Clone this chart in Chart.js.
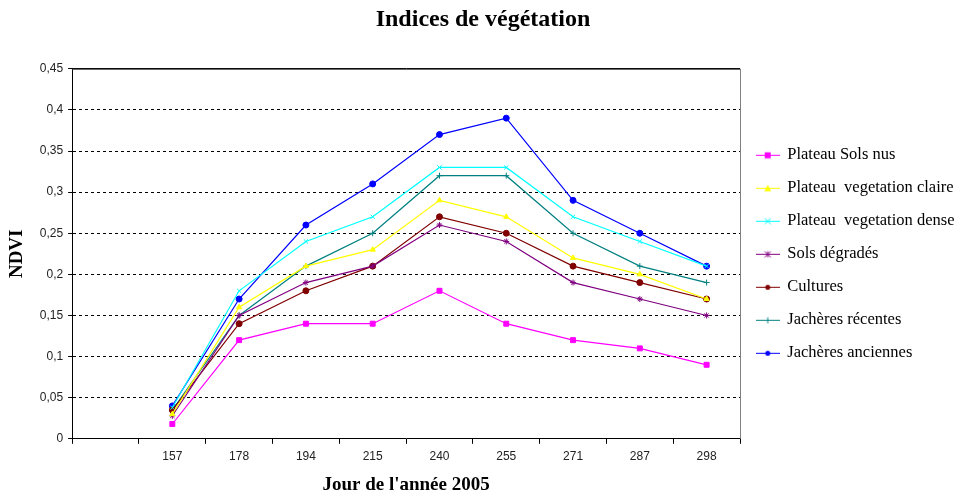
<!DOCTYPE html>
<html>
<head>
<meta charset="utf-8">
<script src="https://cdn.jsdelivr.net/npm/chart.js@4.4.1/dist/chart.umd.min.js"></script>
<style>
  html, body { margin: 0; padding: 0; background: #fff; }
  #wrap { width: 960px; height: 496px; position: relative; }
</style>
</head>
<body>
<div id="wrap"><canvas id="chart-ndvi"></canvas></div>
<script>
// ===== DATA =====
// first slot is empty on the reference axis
const days = ['', '157', '178', '194', '215', '240', '255', '271', '287', '298'];
const yTicks = [0, 0.05, 0.1, 0.15, 0.2, 0.25, 0.3, 0.35, 0.4, 0.45];

const solsNus        = [null, 0.018, 0.12, 0.14, 0.14, 0.18, 0.14, 0.12, 0.11, 0.09];
const vegClaire      = [null, 0.030, 0.16, 0.21, 0.23, 0.29, 0.27, 0.22, 0.20, 0.17];
const vegDense       = [null, 0.038, 0.18, 0.24, 0.27, 0.33, 0.33, 0.27, 0.24, 0.21];
const solsDegrades   = [null, 0.028, 0.15, 0.19, 0.21, 0.26, 0.24, 0.19, 0.17, 0.15];
const cultures       = [null, 0.035, 0.14, 0.18, 0.21, 0.27, 0.25, 0.21, 0.19, 0.17];
const jacheresRec    = [null, 0.035, 0.15, 0.21, 0.25, 0.32, 0.32, 0.25, 0.21, 0.19];
const jacheresAnc    = [null, 0.040, 0.17, 0.26, 0.31, 0.37, 0.39, 0.29, 0.25, 0.21];

const seriesNames = [
  'Plateau Sols nus',
  'Plateau  vegetation claire',
  'Plateau  vegetation dense',
  'Sols dégradés',
  'Cultures',
  'Jachères récentes',
  'Jachères anciennes'
];
const seriesData = [solsNus, vegClaire, vegDense, solsDegrades, cultures, jacheresRec, jacheresAnc];
const seriesColors = ['#ff00ff', '#ffff00', '#00ffff', '#800080', '#800000', '#008080', '#0000ff'];
const seriesMarkers = ['rect', 'triangle', 'crossRot', 'star', 'circle', 'cross', 'circle'];

// ===== LEGEND ICONS (line + marker, Excel style) =====
function makeIcon(color, marker) {
  const c = document.createElement('canvas');
  c.width = 24; c.height = 10;
  const g = c.getContext('2d');
  g.strokeStyle = color; g.fillStyle = color; g.lineWidth = 1;
  g.beginPath(); g.moveTo(0, 5.5); g.lineTo(24, 5.5); g.stroke();
  const x = 12, y = 5.5, r = 3;
  g.beginPath();
  switch (marker) {
    case 'rect': g.fillRect(x - r, y - r, r * 2, r * 2); break;
    case 'triangle':
      g.moveTo(x, y - r - 0.5); g.lineTo(x + r + 0.5, y + r); g.lineTo(x - r - 0.5, y + r); g.closePath(); g.fill(); break;
    case 'circle': g.arc(x, y, r - 0.5, 0, Math.PI * 2); g.fill(); break;
    case 'cross':
      g.moveTo(x, y - r); g.lineTo(x, y + r); g.moveTo(x - r, y); g.lineTo(x + r, y); g.stroke(); break;
    case 'crossRot':
      g.moveTo(x - r, y - r); g.lineTo(x + r, y + r); g.moveTo(x + r, y - r); g.lineTo(x - r, y + r); g.stroke(); break;
    case 'star':
      g.moveTo(x - r, y - r); g.lineTo(x + r, y + r); g.moveTo(x + r, y - r); g.lineTo(x - r, y + r);
      g.moveTo(x, y - r); g.lineTo(x, y + r); g.stroke(); break;
  }
  return c;
}
const legendIcons = seriesColors.map((c, i) => makeIcon(c, seriesMarkers[i]));

// ===== PLOT FRAME (top + right edge of the plot area) =====
const plotFrame = {
  id: 'plotFrame',
  afterDatasetsDraw(chart) {
    const { ctx, chartArea: a } = chart;
    ctx.save();
    ctx.lineWidth = 1;
    ctx.strokeStyle = '#404040';
    ctx.beginPath(); ctx.moveTo(a.left, a.top + 0.5); ctx.lineTo(a.right, a.top + 0.5); ctx.stroke();
    ctx.strokeStyle = '#808080';
    ctx.beginPath(); ctx.moveTo(a.right + 0.5, a.top); ctx.lineTo(a.right + 0.5, a.bottom); ctx.stroke();
    ctx.restore();
  }
};

const serif = "'Liberation Serif', 'Times New Roman', serif";
const sans = "'Liberation Sans', Arial, sans-serif";

new Chart(document.getElementById('chart-ndvi'), {
  type: 'line',
  data: {
    labels: days,
    datasets: seriesData.map((d, i) => ({
      label: seriesNames[i],
      data: d,
      borderColor: seriesColors[i],
      backgroundColor: seriesColors[i],
      borderWidth: 1.2,
      pointStyle: seriesMarkers[i],
      pointRadius: seriesMarkers[i] === 'rect' ? 3.5 : 3,
      pointBorderWidth: 1,
      pointBorderColor: seriesColors[i],
      pointBackgroundColor: seriesColors[i],
      tension: 0,
      fill: false
    }))
  },
  options: {
    responsive: true,
    maintainAspectRatio: false,
    animation: false,
    layout: { padding: { left: 6, right: 0, top: 0, bottom: 0 } },
    plugins: {
      title: {
        display: true,
        text: 'Indices de végétation',
        color: '#000',
        font: { family: serif, size: 24, weight: 'bold' },
        padding: { top: 5, bottom: 35 }
      },
      legend: {
        position: 'right',
        align: 'center',
        fullSize: false,
        maxWidth: 220,
        labels: {
          color: '#000',
          font: { family: serif, size: 16.5 },
          usePointStyle: true,
          pointStyleWidth: 22.5,
          padding: 16.5,
          generateLabels: (chart) => {
            const items = Chart.defaults.plugins.legend.labels.generateLabels(chart);
            items.forEach((it, i) => { it.pointStyle = legendIcons[i]; });
            return items;
          }
        }
      },
      tooltip: { enabled: false }
    },
    scales: {
      x: {
        offset: true,
        grid: { display: true, drawOnChartArea: false, offset: true, tickLength: 5, color: '#000' },
        border: { color: '#000', width: 1 },
        ticks: { color: '#222', font: { family: sans, size: 12 }, padding: 6, autoSkip: false, maxRotation: 0 },
        title: {
          display: true,
          text: "Jour de l'année 2005",
          color: '#000',
          font: { family: serif, size: 19, weight: 'bold' },
          padding: { top: 3, bottom: 0 }
        }
      },
      y: {
        min: 0,
        max: 0.45,
        afterBuildTicks: (axis) => { axis.ticks = yTicks.map(v => ({ value: v })); },
        grid: { color: '#000', lineWidth: 1, tickLength: 4 },
        border: {
          color: '#000', width: 1,
          dash: (ctx) => (ctx.tick && ctx.tick.value === 0.45) ? [] : [3, 3]
        },
        ticks: {
          color: '#222',
          font: { family: sans, size: 12 },
          padding: 5,
          callback: (v) => v === 0 ? '0' : String(+Number(v).toFixed(2)).replace('.', ',')
        },
        title: {
          display: true,
          text: 'NDVI',
          color: '#000',
          font: { family: serif, size: 19, weight: 'bold' },
          padding: { top: 0, bottom: 6 }
        }
      }
    }
  },
  plugins: [plotFrame]
});
</script>
</body>
</html>
